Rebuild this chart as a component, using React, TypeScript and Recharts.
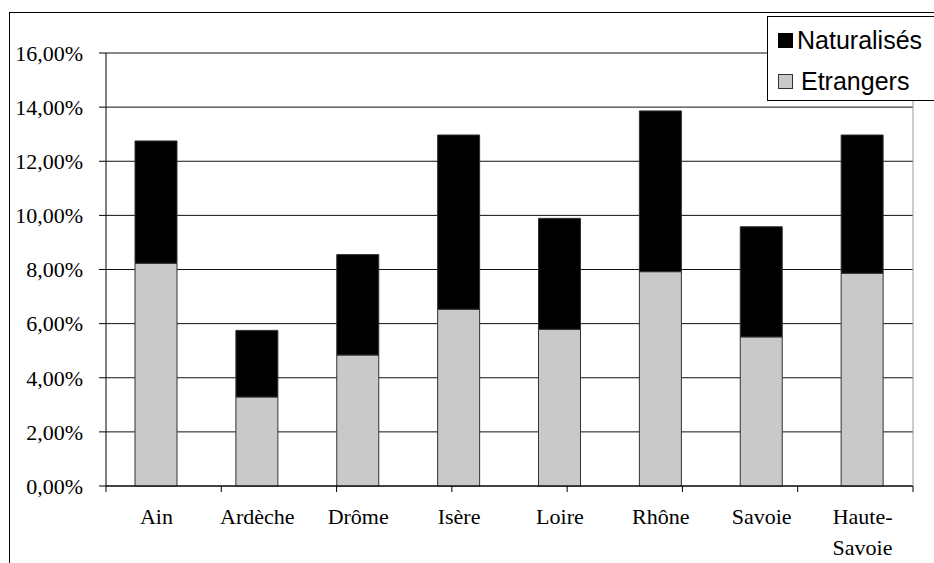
import { Bar, BarChart, CartesianGrid, XAxis, YAxis } from "recharts";

const categories = ["Ain", "Ardèche", "Drôme", "Isère", "Loire", "Rhône", "Savoie", "Haute-Savoie"];
const etrangers = [8.23, 3.29, 4.84, 6.53, 5.79, 7.92, 5.51, 7.86];
const naturalises = [4.52, 2.46, 3.71, 6.44, 4.1, 5.94, 4.07, 5.11];
const yTicks = [0, 2, 4, 6, 8, 10, 12, 14, 16];
const seriesNames = ["Naturalisés", "Etrangers"];

const GREY = "#c9c9c9";
const SERIF = "'Liberation Serif', 'Times New Roman', serif";
const SANS = "'Liberation Sans', Arial, sans-serif";

const data = categories.map((name, i) => ({
  name,
  etrangers: etrangers[i],
  naturalises: naturalises[i],
}));

// category boundaries, used for the little ticks between the groups
const edgeTicks = [...categories.map((_, i) => i), categories.length];

const pct = (v: number) => `${v.toFixed(2).replace(".", ",")}%`;

function CategoryTick({ x, y, payload }: any) {
  const lines = String(payload.value).split(/(?<=-)/);
  return (
    <text x={x} y={y + 37} textAnchor="middle" fontFamily={SERIF} fontSize={22} fill="#000">
      {lines.map((l, i) => (
        <tspan key={i} x={x} dy={i === 0 ? 0 : 31}>
          {l}
        </tspan>
      ))}
    </text>
  );
}

function LegendBox() {
  const swatch = [
    { background: "#000", border: "1px solid #000" },
    { background: GREY, border: "1px solid #333" },
  ];
  return (
    <div
      style={{
        position: "absolute",
        left: 767,
        top: 16,
        width: 200,
        height: 83,
        border: "1px solid #000",
        background: "#fff",
      }}
    >
      {seriesNames.map((name, i) => (
        <div
          key={name}
          style={{
            position: "absolute",
            left: 10,
            top: i === 0 ? 11 : 52,
            height: 24,
            display: "flex",
            alignItems: "center",
            fontFamily: SANS,
            fontSize: 25,
            color: "#000",
            whiteSpace: "nowrap",
          }}
        >
          <span style={{ width: 13, height: 13, marginRight: i === 0 ? 4 : 8, ...swatch[i] }} />
          {name}
        </div>
      ))}
    </div>
  );
}

export default function App() {
  return (
    <div
      style={{
        position: "absolute",
        left: 0,
        top: 0,
        width: 934,
        height: 563,
        overflow: "hidden",
        background: "#fff",
      }}
    >
      <div
        style={{
          position: "absolute",
          left: 9,
          top: 12,
          width: 1000,
          height: 1000,
          border: "1px solid #000",
        }}
      />
      <div style={{ position: "absolute", left: 0, top: 0 }}>
        <BarChart
          width={934}
          height={563}
          data={data}
          margin={{ top: 53, right: 0, bottom: 0, left: 0 }}
          barSize={42}
        >
          <CartesianGrid vertical={false} stroke="#111" strokeOpacity={1} />
          <XAxis
            xAxisId={0}
            type="number"
            domain={[0, categories.length]}
            ticks={edgeTicks}
            interval={0}
            allowDataOverflow
            height={1}
            tick={() => null}
            tickSize={6}
            axisLine={{ stroke: "#000" }}
            tickLine={{ stroke: "#000" }}
          />
          <XAxis
            xAxisId={1}
            dataKey="name"
            height={76}
            interval={0}
            axisLine={false}
            tickLine={false}
            tickSize={0}
            tickMargin={0}
            tick={<CategoryTick />}
          />
          <YAxis
            width={106}
            domain={[0, 16]}
            ticks={yTicks}
            interval={0}
            tickFormatter={pct}
            tickSize={7}
            tickMargin={16}
            axisLine={{ stroke: "#000" }}
            tickLine={{ stroke: "#000" }}
            tick={{ fontFamily: SERIF, fontSize: 22, fill: "#000" }}
          />
          <YAxis
            yAxisId="right"
            orientation="right"
            width={21}
            domain={[0, 16]}
            tick={false}
            tickLine={false}
            axisLine={{ stroke: "#999" }}
          />
          <Bar
            xAxisId={1}
            dataKey="etrangers"
            name="Etrangers"
            stackId="a"
            fill={GREY}
            stroke="#333"
            strokeWidth={1}
            isAnimationActive={false}
          />
          <Bar
            xAxisId={1}
            dataKey="naturalises"
            name="Naturalisés"
            stackId="a"
            fill="#000"
            stroke="#333"
            strokeWidth={1}
            isAnimationActive={false}
          />
        </BarChart>
      </div>
      <LegendBox />
    </div>
  );
}
